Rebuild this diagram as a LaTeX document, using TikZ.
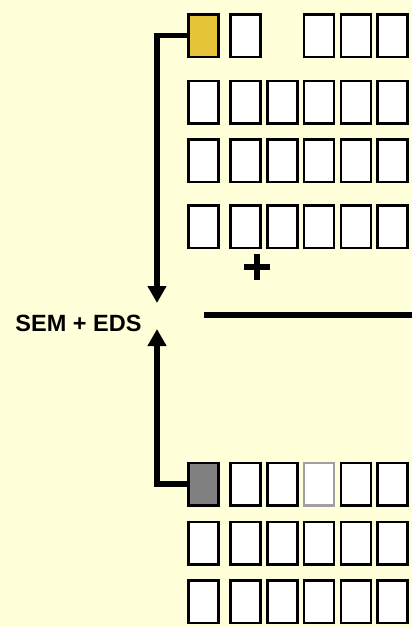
\documentclass[tikz,border=0pt]{standalone}
\usepackage{fontspec}
\setmainfont{Liberation Sans}
\usetikzlibrary{arrows.meta}
\definecolor{bgyel}{HTML}{FFFFDA}
\definecolor{gold}{HTML}{E6C43A}
\definecolor{midgray}{HTML}{808080}
\definecolor{fadegray}{HTML}{A0A0A0}
\tikzset{
  cell/.style={draw=black, fill=white, line width=2.5pt, inner sep=0pt, minimum width=30pt, minimum height=42.5pt},
  conn/.style={line width=5.5pt, -{Triangle[width=18pt,length=17pt]}},
  thickline/.style={line width=5.5pt},
}
\begin{document}
\begin{tikzpicture}[x=1pt,y=-1pt]
\fill[bgyel] (0,0) rectangle (412,627);
\useasboundingbox (0,0) rectangle (412,627);
% top rows
\node[cell, fill=gold] (r1c1) at (203.5,35.5) {};
\node[cell] (r1c2) at (245.5,35.5) {};
\node[cell] (r1c4) at (319,35.5) {};
\node[cell] (r1c5) at (356,35.5) {};
\node[cell] (r1c6) at (392.5,35.5) {};
\foreach \r/\y in {2/102,3/160.5,4/226.5}{
  \node[cell] (r\r c1) at (203.5,\y) {};
  \node[cell] (r\r c2) at (245.5,\y) {};
  \node[cell] (r\r c3) at (282.5,\y) {};
  \node[cell] (r\r c4) at (319,\y) {};
  \node[cell] (r\r c5) at (356,\y) {};
  \node[cell] (r\r c6) at (392.5,\y) {};
}
% bottom rows
\node[cell, fill=midgray] (rAc1) at (203.5,484) {};
\node[cell] (rAc2) at (245.5,484) {};
\node[cell] (rAc3) at (282.5,484) {};
\node[cell, draw=fadegray, fill=white] (rAc4) at (319,484) {};
\node[cell] (rAc5) at (356,484) {};
\node[cell] (rAc6) at (392.5,484) {};
\foreach \r/\y in {B/543,C/601.5}{
  \node[cell] (r\r c1) at (203.5,\y) {};
  \node[cell] (r\r c2) at (245.5,\y) {};
  \node[cell] (r\r c3) at (282.5,\y) {};
  \node[cell] (r\r c4) at (319,\y) {};
  \node[cell] (r\r c5) at (356,\y) {};
  \node[cell] (r\r c6) at (392.5,\y) {};
}
% plus sign
\coordinate (plusc) at (257,267);
\draw[line width=6.5pt] ([xshift=-13pt]plusc) -- ([xshift=13pt]plusc);
\draw[line width=6.5pt] ([yshift=13pt]plusc) -- ([yshift=-13pt]plusc);
% horizontal rule
\coordinate (ruleA) at (204,315);
\coordinate (ruleB) at (412,315);
\draw[thickline] (ruleA) -- (ruleB);
% label
\node[font=\fontsize{23.5pt}{26pt}\selectfont\bfseries, inner sep=0pt] (sem) at (78.5,323) {SEM + EDS};
% connectors
\coordinate (tipT) at (157,303);
\coordinate (tipB) at (157,329);
\draw[conn] (r1c1.west) -| (tipT);
\draw[conn] (rAc1.west) -| (tipB);
\end{tikzpicture}
\end{document}
